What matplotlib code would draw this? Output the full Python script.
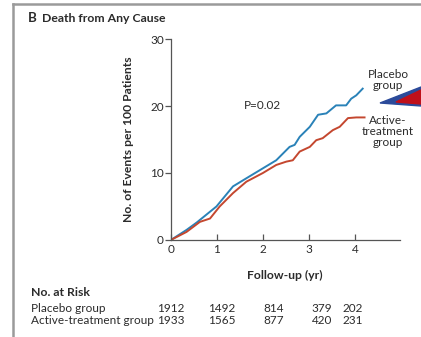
# Kaplan-Meier style cumulative incidence: death from any cause
import matplotlib.pyplot as plt
from matplotlib.patches import Polygon
from matplotlib.transforms import blended_transform_factory

plt.rcParams['font.family'] = ['Lato', 'DejaVu Sans']

# curve points (years, events per 100 patients)
placebo_t = [0, 0.34, 0.56, 0.99, 1.35, 1.71, 2.0, 2.29, 2.58, 2.69, 2.80,
             3.02, 3.20, 3.38, 3.59, 3.81, 3.92, 4.03, 4.17]
placebo_y = [0, 1.5, 2.6, 5.0, 8.0, 9.5, 10.7, 11.9, 13.9, 14.2, 15.4,
             16.9, 18.7, 18.9, 20.1, 20.1, 21.1, 21.6, 22.6]
active_t = [0, 0.34, 0.63, 0.85, 1.06, 1.35, 1.64, 2.0, 2.29, 2.51, 2.65,
            2.80, 3.02, 3.16, 3.30, 3.52, 3.67, 3.85, 4.03, 4.21]
active_y = [0, 1.2, 2.7, 3.2, 5.0, 7.0, 8.7, 10.0, 11.2, 11.7, 11.9,
            13.2, 13.9, 14.9, 15.2, 16.4, 16.9, 18.2, 18.3, 18.3]

groups = ['Placebo group', 'Active-treatment group']
at_risk_placebo = [1912, 1492, 814, 379, 202]
at_risk_active = [1933, 1565, 877, 420, 231]
risk_x = [0, 1.11, 2.24, 3.28, 3.96]

blue = '#2a82b8'
red = '#c4472f'
txt = '#2b2b2b'

fig = plt.figure(figsize=(4.21, 3.37), dpi=100)
ax = fig.add_axes([0.406, 0.288, 0.544, 0.596])

ax.plot(placebo_t, placebo_y, color=blue, lw=1.4)
ax.plot(active_t, active_y, color=red, lw=1.4)

ax.set_xlim(0, 4.98)
ax.set_ylim(0, 30)
ax.set_xticks([0, 1, 2, 3, 4])
ax.set_yticks([0, 10, 20, 30])
ax.spines['top'].set_visible(False)
ax.spines['right'].set_visible(False)
for s in ['left', 'bottom']:
    ax.spines[s].set_color('#555555')
    ax.spines[s].set_linewidth(0.9)
ax.tick_params(axis='y', direction='out', length=4, width=0.9,
               color='#555555', labelsize=8.5, labelcolor=txt, pad=1)
ax.tick_params(axis='x', direction='in', length=4, width=0.9,
               color='#555555', labelsize=8.5, labelcolor=txt, pad=3)

ax.set_ylabel('No. of Events per 100 Patients', fontsize=8.7, fontweight='bold',
              color=txt, labelpad=12)
ax.text(2.48, -5.3, 'Follow-up (yr)', ha='center', va='center', fontsize=8.7,
        fontweight='bold', color=txt)

ax.text(1.98, 20.1, 'P=0.02', ha='center', va='center', fontsize=8.5, color=txt)
ax.text(4.72, 23.9, 'Placebo\ngroup', ha='center', va='center', fontsize=8.5,
        color=txt, linespacing=1.05)
ax.text(4.72, 16.2, 'Active-\ntreatment\ngroup', ha='center', va='center',
        fontsize=8.5, color=txt, linespacing=1.05)

# title
fig.text(28 / 421, 1 - 18 / 337, 'B', fontsize=9.5, fontweight='bold',
         color=txt, va='center')
fig.text(42 / 421, 1 - 18 / 337, 'Death from Any Cause', fontsize=8.8,
         fontweight='bold', color=txt, va='center')

# number at risk table
fig.text(31 / 421, 1 - 292 / 337, 'No. at Risk', fontsize=8.8,
         fontweight='bold', color=txt, va='center')
rows_y = [1 - 308 / 337, 1 - 321 / 337]
risk_trans = blended_transform_factory(ax.transData, fig.transFigure)
for g, vals, yy in zip(groups, [at_risk_placebo, at_risk_active], rows_y):
    fig.text(31 / 421, yy, g, fontsize=8.5, color=txt, va='center')
    for xv, v in zip(risk_x, vals):
        ax.text(xv, yy, str(v), ha='center', va='center', fontsize=8.5,
                color=txt, clip_on=False, transform=risk_trans)

# panel frame lines
fig.add_artist(plt.Line2D([13 / 421, 1], [1 - 4 / 337, 1 - 4 / 337],
                          color='#9a9a9a', lw=1.8, transform=fig.transFigure))
fig.add_artist(plt.Line2D([13 / 421, 13 / 421], [0, 1 - 4 / 337],
                          color='#9a9a9a', lw=1.8, transform=fig.transFigure))

# pointer arrow clipped at the right edge
def px(x, y):
    return (x / 421, 1 - y / 337)

fig.add_artist(Polygon([px(380, 103), px(421, 87), px(421, 106)],
                       closed=True, color='#2b4a9a', transform=fig.transFigure))
fig.add_artist(Polygon([px(396, 102), px(421, 90), px(421, 104)],
                       closed=True, color='#c0101a', transform=fig.transFigure))

fig.savefig('out.png', dpi=100)
